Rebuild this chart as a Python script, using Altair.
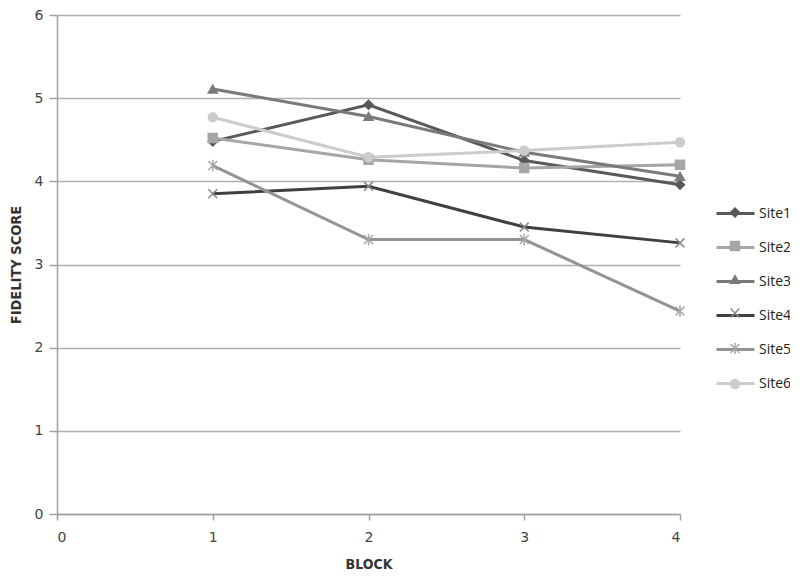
import altair as alt
import pandas as pd

blocks = [1, 2, 3, 4]
sites = ["Site1", "Site2", "Site3", "Site4", "Site5", "Site6"]
site1 = [4.48, 4.92, 4.25, 3.96]
site2 = [4.52, 4.26, 4.16, 4.20]
site3 = [5.11, 4.78, 4.35, 4.06]
site4 = [3.85, 3.94, 3.45, 3.26]
site5 = [4.19, 3.30, 3.30, 2.44]
site6 = [4.77, 4.29, 4.37, 4.47]
colors = ["#595959", "#a6a6a6", "#7a7a7a", "#404040", "#939393", "#cccccc"]
marker_colors = ["#595959", "#a6a6a6", "#7a7a7a", "#8a8a8a", "#a8a8a8", "#cccccc"]
shapes = ["diamond", "square", "triangle-up",
          "M-1,-1L1,1M-1,1L1,-1",
          "M-1,-1L1,1M-1,1L1,-1M0,-1.3L0,1.3",
          "circle"]
marker_keys = ["m" + s for s in sites]

rows = []
for name, key, vals in zip(sites, marker_keys, [site1, site2, site3, site4, site5, site6]):
    for b, v in zip(blocks, vals):
        rows.append({"Block": b, "Score": v, "Site": name, "Marker": key})
df = pd.DataFrame(rows)

FONT = "Open Sans"
TFONT = "DejaVu Sans Condensed"
LX = 658
LY = 178

x = alt.X("Block:Q", scale=alt.Scale(domain=[0, 4], nice=False),
          axis=alt.Axis(title="BLOCK", values=[0, 1, 2, 3, 4], grid=False, format="d",
                        titleFont=TFONT, titleFontWeight="bold", titleFontSize=14,
                        titleColor="#333333", titlePadding=13,
                        labelFont="DejaVu Sans", labelFontSize=14, labelColor="#444444",
                        labelPadding=10,
                        domainColor="#a0a0a0", domainWidth=1.5,
                        tickColor="#a0a0a0", tickWidth=1.5, tickSize=6))
y = alt.Y("Score:Q", scale=alt.Scale(domain=[0, 6], nice=False),
          axis=alt.Axis(title="FIDELITY SCORE", values=[0, 1, 2, 3, 4, 5, 6],
                        titleFont=TFONT, titleFontWeight="bold", titleFontSize=14.5,
                        titleColor="#333333", titlePadding=11,
                        labelFont="DejaVu Sans", labelFontSize=14, labelColor="#444444",
                        labelPadding=6,
                        gridColor="#b0b0b0", gridWidth=1.5,
                        domainColor="#a0a0a0", domainWidth=1.5,
                        tickColor="#a0a0a0", tickWidth=1.5, tickSize=8))

lines = alt.Chart(df).mark_line(strokeWidth=3).encode(
    x=x, y=y,
    color=alt.Color("Site:N", scale=alt.Scale(domain=sites, range=colors),
                    legend=alt.Legend(title=None, orient="none", legendX=LX, legendY=LY,
                                      symbolType="stroke", symbolSize=1444,
                                      symbolStrokeWidth=3, rowPadding=6,
                                      labelFont=FONT, labelFontSize=14,
                                      labelColor="#222222", labelOffset=3)),
)

pts = alt.Chart(df).mark_point(filled=False, size=80, strokeWidth=1.5, opacity=1).encode(
    x=x, y=y,
    shape=alt.Shape("Marker:N", scale=alt.Scale(domain=marker_keys, range=shapes),
                    legend=alt.Legend(title=None, orient="none", legendX=LX + 19 - 4.5,
                                      legendY=LY + 14, symbolSize=80, rowPadding=18.5,
                                      labelExpr="''", symbolStrokeWidth=1.5)),
    stroke=alt.Stroke("Marker:N", scale=alt.Scale(domain=marker_keys, range=marker_colors)),
    fill=alt.Fill("Marker:N", scale=alt.Scale(domain=marker_keys, range=marker_colors)),
)

chart = alt.layer(lines, pts).properties(
    width=623, height=499,
    background="white",
    autosize=alt.AutoSizeParams(type="none"),
    padding={"left": 49, "top": 7, "right": 110, "bottom": 56},
).configure_view(stroke=None)

chart.save("out.html", embed_options={"renderer": "svg", "actions": False})
